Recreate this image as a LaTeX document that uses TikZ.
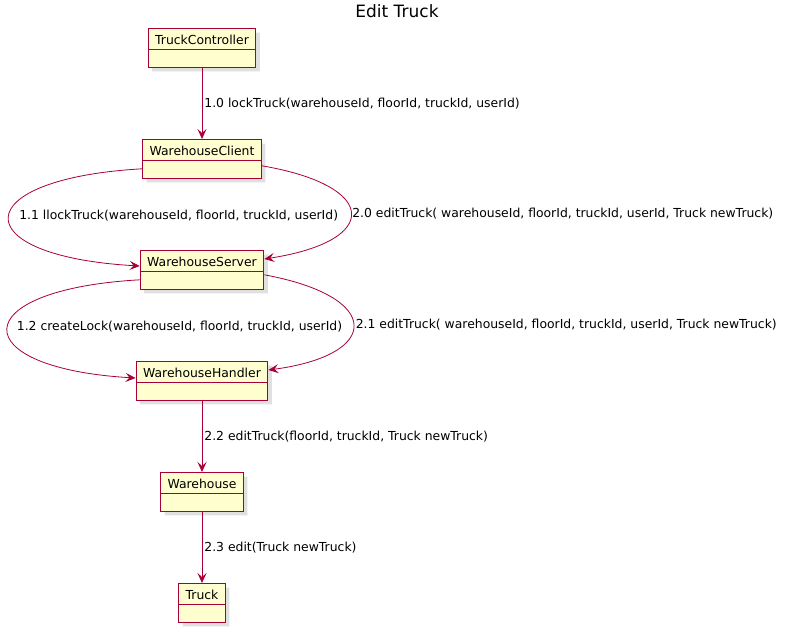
\documentclass[tikz,border=0pt]{standalone}
\usepackage{fontspec}
\setmainfont{DejaVu Sans}
\usepackage{tikz}
\usetikzlibrary{shapes.multipart , shadows , arrows.meta}
\definecolor{umlred}{HTML}{A80036}
\definecolor{umlfill}{HTML}{FEFECE}
\newcommand{\namestrut}{\rule[-2.5pt]{0pt}{15.5pt}}
\tikzset{
  objbox/.style = {rectangle split , rectangle split parts = 2 , draw = umlred , fill = umlfill , line width = 1.1pt ,
    inner xsep = 7pt , inner ysep = 2pt , rectangle split empty part height = 10pt , rectangle split empty part depth = 3pt ,
    anchor = north , font = \fontsize{12.4}{15}\selectfont ,
    drop shadow = {shadow xshift = 4pt , shadow yshift = -4pt , opacity = 0.2 , fill = black!60 , draw = none}},
  msg/.style = {draw = umlred , line width = 0.8pt , -{Stealth[length = 10pt , width = 9pt , inset = 4pt]}},
  lbl/.style = {inner sep = 0pt , font = \fontsize{12.4}{15}\selectfont}
}
\begin{document}
\begin{tikzpicture}[x = 1pt , y = -1pt]
    \useasboundingbox (0,0) rectangle (793,627);
    \node[font = \fontsize{17}{20}\selectfont] (title) at (397,11) {Edit Truck}; % title

    % objects
    \node[objbox] (tc) at (202,28) {\namestrut TruckController};
    \node[objbox] (wc) at (202,139) {\namestrut WarehouseClient};
    \node[objbox] (ws) at (202,250) {\namestrut WarehouseServer};
    \node[objbox] (wh) at (202,361) {\namestrut WarehouseHandler};
    \node[objbox] (w) at (202,472) {\namestrut Warehouse};
    \node[objbox] (t) at (202,583) {\namestrut Truck};

    % messages
    \draw[msg] (tc) -- (wc) node[midway , lbl , right = 2pt]{1.0 lockTruck(warehouseId, floorId, truckId, userId)};
    \draw[msg] ([yshift = 10pt]wc.south west) .. controls +(-176,10) and +(-176,-10) .. ([yshift = -16pt]ws.north west)
        node[pos = 0.5 , lbl , right = 10pt , yshift = 2pt]{1.1 llockTruck(warehouseId, floorId, truckId, userId)};
    \draw[msg] ([yshift = 13pt]wc.south east) .. controls +(117,20) and +(117,-18) .. ([yshift = -9pt]ws.north east)
        node[pos = 0.5 , lbl , right = 1pt]{2.0 editTruck( warehouseId, floorId, truckId, userId, Truck newTruck)};
    \draw[msg] ([yshift = 10pt]ws.south west) .. controls +(-176,10) and +(-171,-10) .. ([yshift = -17pt]wh.north west)
        node[pos = 0.5 , lbl , right = 9pt , yshift = 2pt]{1.2 createLock(warehouseId, floorId, truckId, userId)};
    \draw[msg] ([yshift = 15pt]ws.south east) .. controls +(119,22) and +(113,-15) .. ([yshift = -9pt]wh.north east)
        node[pos = 0.5 , lbl , right = 2pt]{2.1 editTruck( warehouseId, floorId, truckId, userId, Truck newTruck)};
    \draw[msg] (wh) -- (w) node[midway , lbl , right = 2pt]{2.2 editTruck(floorId, truckId, Truck newTruck)};
    \draw[msg] (w) -- (t) node[midway , lbl , right = 2pt]{2.3 edit(Truck newTruck)};
\end{tikzpicture}
\end{document}
